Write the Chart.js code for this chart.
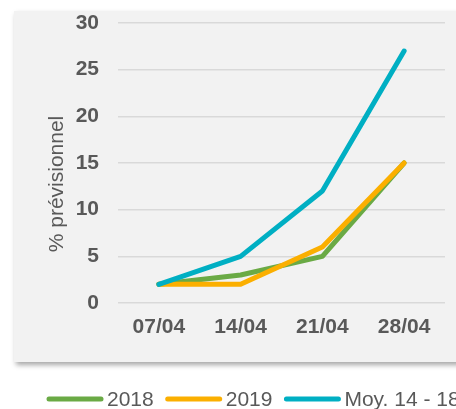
<!DOCTYPE html>
<html>
<head>
<meta charset="utf-8">
<script src="https://cdn.jsdelivr.net/npm/chart.js@4.4.1/dist/chart.umd.min.js"></script>
<style>
  html, body { margin: 0; padding: 0; background: #ffffff; overflow: hidden; }
  #wrap { width: 456px; height: 409px; position: relative; }
</style>
</head>
<body>
<div id="wrap"><canvas id="c" width="456" height="409"></canvas></div>
<script>
const categories = ['07/04', '14/04', '21/04', '28/04'];
const series2018 = [2, 3, 5, 15];
const series2019 = [2, 2, 6, 15];
const seriesMoy = [2, 5, 12, 27];
const seriesLabels = ['2018', '2019', 'Moy. 14 - 18'];
const seriesColors = ['#6aaa45', '#fbaf00', '#00afc3'];
const yTitle = '% prévisionnel';

const FONT = "'Liberation Sans', Arial, sans-serif";
const TXT = '#595959';

const panelPlugin = {
  id: 'panel',
  beforeDraw(chart) {
    const ctx = chart.ctx;
    ctx.save();
    ctx.fillStyle = '#ffffff';
    ctx.fillRect(0, 0, chart.width, chart.height);
    ctx.shadowColor = 'rgba(0,0,0,0.35)';
    ctx.shadowBlur = 5;
    ctx.shadowOffsetX = 2;
    ctx.shadowOffsetY = 3;
    ctx.fillStyle = '#f2f2f2';
    ctx.fillRect(14, 11, chart.width + 20 - 14, 351);
    ctx.restore();
  }
};

const titlePlugin = {
  id: 'ytitle',
  afterDraw(chart) {
    const ctx = chart.ctx;
    ctx.save();
    ctx.translate(57, 184);
    ctx.rotate(-Math.PI / 2);
    ctx.font = '21px ' + FONT;
    ctx.fillStyle = TXT;
    ctx.textAlign = 'center';
    ctx.textBaseline = 'middle';
    ctx.fillText(yTitle, 0, 0);
    ctx.restore();
  }
};

const legendPlugin = {
  id: 'customLegend',
  afterDraw(chart) {
    const ctx = chart.ctx;
    ctx.save();
    ctx.font = '21px ' + FONT;
    ctx.textBaseline = 'middle';
    ctx.textAlign = 'left';
    let x = 47;
    const y = 399;
    chart.data.datasets.forEach(ds => {
      ctx.strokeStyle = ds.borderColor;
      ctx.lineWidth = 5;
      ctx.lineCap = 'round';
      ctx.beginPath();
      ctx.moveTo(x + 2, y);
      ctx.lineTo(x + 54, y);
      ctx.stroke();
      x += 60;
      ctx.fillStyle = TXT;
      ctx.fillText(ds.label, x, y + 1);
      x += ctx.measureText(ds.label).width + 12;
    });
    ctx.restore();
  }
};

const datasets = [
  { label: seriesLabels[0], data: series2018, borderColor: seriesColors[0], order: 2 },
  { label: seriesLabels[1], data: series2019, borderColor: seriesColors[1], order: 1 },
  { label: seriesLabels[2], data: seriesMoy, borderColor: seriesColors[2], order: 0 }
].map(d => Object.assign(d, {
  backgroundColor: d.borderColor,
  borderWidth: 5,
  pointRadius: 0,
  pointHoverRadius: 0,
  tension: 0,
  fill: false,
  borderCapStyle: 'round',
  borderJoinStyle: 'round'
}));

new Chart(document.getElementById('c'), {
  type: 'line',
  data: { labels: categories, datasets },
  options: {
    responsive: false,
    animation: false,
    devicePixelRatio: 1,
    layout: { padding: { left: 0, right: 11, top: 23, bottom: 66 } },
    plugins: {
      legend: { display: false },
      tooltip: { enabled: false },
      title: { display: false }
    },
    scales: {
      x: {
        offset: true,
        grid: { display: false, drawTicks: false },
        border: { display: false },
        ticks: { color: TXT, font: { family: FONT, size: 21, weight: 'bold' }, padding: 12, maxRotation: 0 },
        afterFit(scale) { scale.height = 40; scale.paddingTop = 0; scale.paddingBottom = 0; }
      },
      y: {
        min: 0,
        max: 30,
        ticks: { stepSize: 5, color: TXT, font: { family: FONT, size: 21, weight: 'bold' }, padding: 19 },
        grid: { color: '#d9d9d9', lineWidth: 1.5, drawTicks: false },
        border: { display: false },
        afterFit(scale) { scale.width = 118; scale.paddingTop = 0; scale.paddingBottom = 0; }
      }
    }
  },
  plugins: [panelPlugin, titlePlugin, legendPlugin]
});
</script>
</body>
</html>
